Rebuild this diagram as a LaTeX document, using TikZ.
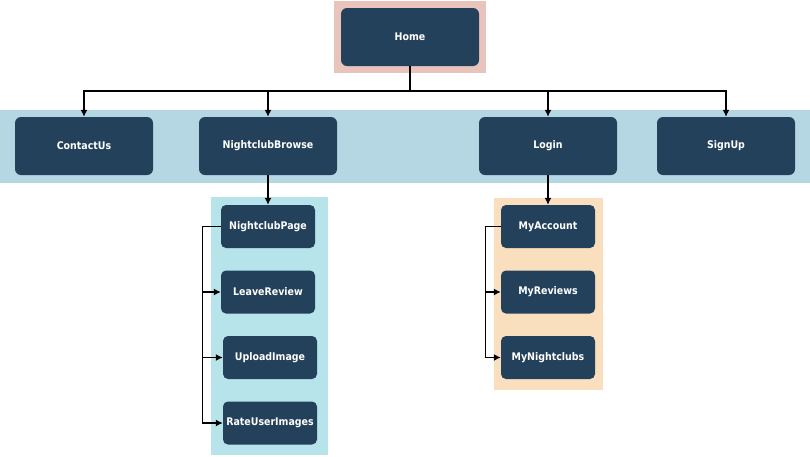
\documentclass[tikz,border=0pt]{standalone}
\usepackage{fontspec}
\setmainfont{DejaVu Sans Condensed}
\usepackage{tikz}
\usetikzlibrary{arrows.meta,positioning,backgrounds}
\definecolor{pagenavy}{RGB}{35,65,90}
\definecolor{homepink}{RGB}{232,196,189}
\definecolor{menublue}{RGB}{181,214,227}
\definecolor{browsecyan}{RGB}{183,228,234}
\definecolor{accountpeach}{RGB}{250,223,191}

\begin{document}
\begin{tikzpicture}[
    x=1pt, y=1pt,
    node distance=65.5pt,
    >={Latex[length=7pt,width=7pt]},
    font=\bfseries\fontsize{10.5}{12}\selectfont,
    page/.style={
		rectangle,
		rounded corners=6pt,
		fill=pagenavy,
		text=white,
		text centered,
		inner sep=0pt,
		minimum width=138pt,
		minimum height=58pt
	},
	subpage/.style={
		page,
		rounded corners=5pt,
		minimum width=94pt,
		minimum height=43pt
	},
	link/.style={
		draw=black,
		line width=1.3pt,
		->
	}
  ]
    % fixed frame of the picture
  \useasboundingbox (0,0) rectangle (810,-456);

    % We start by placing the pages
  \node [page] (home) at (410,-37) {Home};

  \node [page, node distance=109pt, below of=home, xshift=-326pt] (contactus) {ContactUs};
  \node [page, node distance=109pt, below of=home, xshift=-142pt] (browse) {NightclubBrowse};
  \node [page, node distance=109pt, below of=home, xshift=138pt] (login) {Login};
  \node [page, node distance=109pt, below of=home, xshift=316pt] (signup) {SignUp};

  \node [subpage, node distance=80.5pt, below of=browse] (ncpage) {NightclubPage};
  \node [subpage, below of=ncpage] (leavereview) {LeaveReview};
  \node [subpage, below of=leavereview, xshift=2pt] (uploadimage) {UploadImage};
  \node [subpage, below of=uploadimage] (rateimages) {RateUserImages};

  \node [subpage, node distance=80.5pt, below of=login] (myaccount) {MyAccount};
  \node [subpage, below of=myaccount] (myreviews) {MyReviews};
  \node [subpage, below of=myreviews] (myclubs) {MyNightclubs};

    % coloured panels behind the groups
  \begin{scope}[on background layer]
    \fill [homepink] (334,-1) rectangle (486,-73);
    \fill [menublue] (0,-110) rectangle (810,-183);
    \fill [browsecyan] (211,-197) rectangle (328,-455);
    \fill [accountpeach] (494,-198) rectangle (603,-390);
  \end{scope}

  \coordinate (bar) at (410,-91);

  \draw [link] (home) -- (bar) -| (contactus);
  \draw [link] (home) -- (bar) -| (browse);
  \draw [link] (home) -- (bar) -| (login);
  \draw [link] (home) -- (bar) -| (signup);

  \draw [link] (browse) -- (ncpage);
  \draw [link] (ncpage.west) -- ++(-18,0) |- (leavereview);
  \draw [link] (ncpage.west) -- ++(-18,0) |- (uploadimage);
  \draw [link] (ncpage.west) -- ++(-18,0) |- (rateimages);

  \draw [link] (login) -- (myaccount);
  \draw [link] (myaccount.west) -- ++(-15,0) |- (myreviews);
  \draw [link] (myaccount.west) -- ++(-15,0) |- (myclubs);

\end{tikzpicture}
\end{document}
